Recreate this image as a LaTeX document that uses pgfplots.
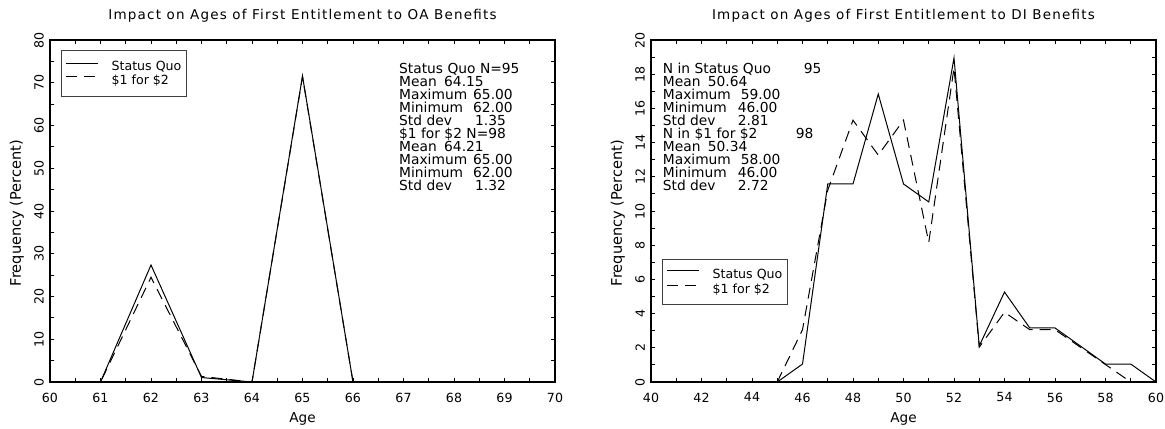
\documentclass[border=0pt]{standalone}
\usepackage{fontspec}
\setmainfont{DejaVu Sans}
\newfontfamily\titlefont[LetterSpace=9]{DejaVu Sans}
\usepackage{pgfplots}
\pgfplotsset{compat=1.18}

% OA: ages 60..70, percent
\pgfplotstableread{
age sq alt
60 0 0
61 0 0
62 27.37 24.49
63 1.05 1.3
64 0 0
65 71.58 71.43
66 0 0
67 0 0
68 0 0
69 0 0
70 0 0
}\oadata
% DI: ages 40..60, percent
\pgfplotstableread{
age sq alt
40 0 0
41 0 0
42 0 0
43 0 0
44 0 0
45 0 0
46 1.05 3.06
47 11.58 11.22
48 11.58 15.31
49 16.84 13.27
50 11.58 15.31
51 10.53 8.16
52 18.95 18.37
53 2.11 2.04
54 5.26 4.08
55 3.16 3.06
56 3.16 3.06
57 2.11 2.04
58 1.05 1.02
59 1.05 0
60 0 0
}\didata

\pgfplotsset{
  sasfig/.style={
    scale only axis, width=505bp, height=342bp,
    axis line style={line width=1.7bp},
    tick align=inside,
    tick style={line width=0.9bp, black},
    major tick length=4bp, minor tick length=4bp,
    /pgf/number format/assume math mode=true,
    tick label style={font=\fontsize{12.6bp}{13bp}\selectfont},
    xticklabel style={anchor=north, inner sep=0pt, yshift=-10.5bp},
    yticklabel style={rotate=90, anchor=south, inner sep=6bp},
    legend cell align=left,
    legend image code/.code={\draw[##1] (0bp,3.8bp) -- (32bp,3.8bp); \path (44bp,0bp);},
    legend style={draw=black!75, line width=1.2bp, anchor=north west,
      font=\fontsize{12.6bp}{13bp}\selectfont,
      inner xsep=4bp, inner ysep=10bp, nodes={inner sep=1bp}},
  },
  sq/.style={black, line width=1bp},
  alt/.style={black, line width=1bp, dash pattern=on 11bp off 7bp},
}

\newcommand\statfont{\fontsize{13.8bp}{13bp}\selectfont}
\newcommand\labfont{\fontsize{14.6bp}{15bp}\selectfont}

\begin{document}
\begin{tikzpicture}
\useasboundingbox (0,0) rectangle (1165bp,-429bp);

% left panel: OA benefits
\begin{axis}[sasfig, at={(50bp,-382bp)}, anchor=south west,
    xmin=60, xmax=70, ymin=0, ymax=80,
    xtick={60,61,...,70}, minor x tick num=1,
    ytick={0,10,...,80}, minor y tick num=1,
    legend style={at={(0.0218,0.9708)}}]
  \addplot[sq] table[x=age, y=sq] {\oadata};
  \addlegendentry{Status Quo}
  \addplot[alt] table[x=age, y=alt] {\oadata};
  \addlegendentry{\$1 for \$2}
\end{axis}

% right panel: DI benefits
\begin{axis}[sasfig, at={(651bp,-382bp)}, anchor=south west,
    xmin=40, xmax=60, ymin=0, ymax=20,
    xtick={40,42,...,60}, minor x tick num=1,
    ytick={0,2,...,20}, minor y tick num=1,
    legend style={at={(0.0218,0.360)}, inner ysep=8.5bp, row sep=2bp}]
  \addplot[sq] table[x=age, y=sq] {\didata};
  \addlegendentry{Status Quo}
  \addplot[alt] table[x=age, y=alt] {\didata};
  \addlegendentry{\$1 for \$2}
\end{axis}

% titles and axis labels
\node[font=\titlefont\fontsize{13.5bp}{14bp}\selectfont, anchor=base] at (302.5bp,-19.7bp)
  {Impact on Ages of First Entitlement to OA Benefits};
\node[font=\titlefont\fontsize{13.5bp}{14bp}\selectfont, anchor=base] at (903.5bp,-19.7bp)
  {Impact on Ages of First Entitlement to DI Benefits};
\node[font=\fontsize{13.6bp}{14bp}\selectfont, anchor=base] at (302.5bp,-422.7bp) {Age};
\node[font=\fontsize{13.6bp}{14bp}\selectfont, anchor=base] at (903.5bp,-422.7bp) {Age};
\node[font=\labfont, rotate=90, anchor=base] at (20.8bp,-213bp) {Frequency (Percent)};
\node[font=\labfont, rotate=90, anchor=base] at (621.8bp,-213bp) {Frequency (Percent)};

% summary statistics
\node[font=\statfont, align=left, anchor=north west, inner sep=0pt] at (399bp,-63bp)
  {Status Quo N=95\\
   \makebox[45bp][l]{Mean}64.15\\
   \makebox[74bp][l]{Maximum}65.00\\
   \makebox[74bp][l]{Minimum}62.00\\
   \makebox[76bp][l]{Std dev}1.35\\
   \$1 for \$2 N=98\\
   \makebox[45bp][l]{Mean}64.21\\
   \makebox[74bp][l]{Maximum}65.00\\
   \makebox[74bp][l]{Minimum}62.00\\
   \makebox[76bp][l]{Std dev}1.32};
\node[font=\statfont, align=left, anchor=north west, inner sep=0pt] at (662.7bp,-63bp)
  {\makebox[141bp][l]{N in Status Quo}95\\
   \makebox[45bp][l]{Mean}50.64\\
   \makebox[78bp][l]{Maximum}59.00\\
   \makebox[75bp][l]{Minimum}46.00\\
   \makebox[75bp][l]{Std dev}2.81\\
   \makebox[133bp][l]{N in \$1 for \$2}98\\
   \makebox[45bp][l]{Mean}50.34\\
   \makebox[78bp][l]{Maximum}58.00\\
   \makebox[75bp][l]{Minimum}46.00\\
   \makebox[75bp][l]{Std dev}2.72};
\end{tikzpicture}
\end{document}
